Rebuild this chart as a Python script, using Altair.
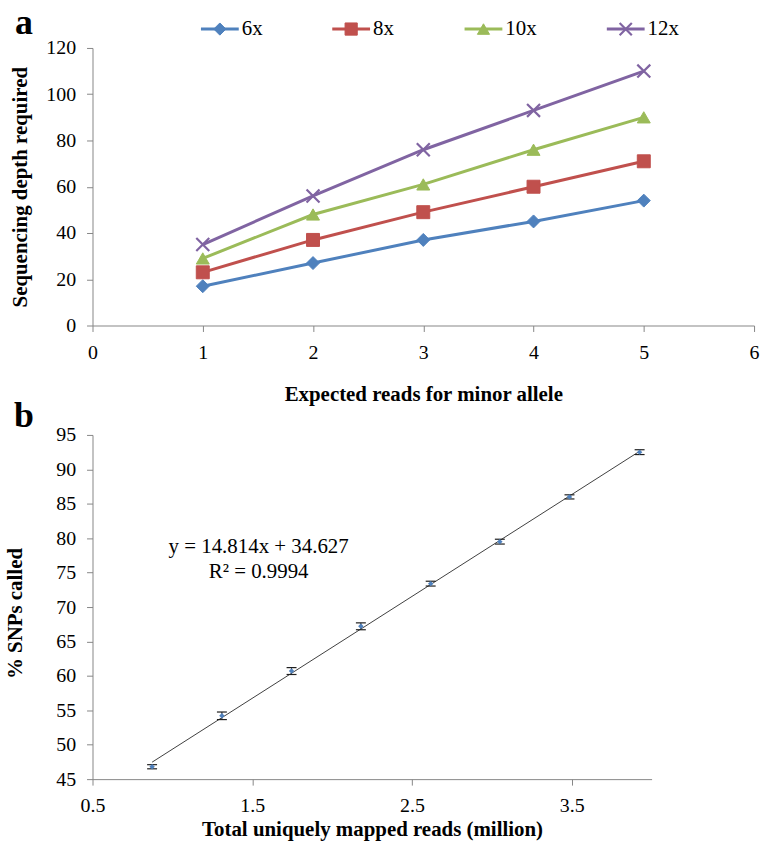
import altair as alt
import pandas as pd

# ---------------- data ----------------
# panel a
series = ["6x", "8x", "10x", "12x"]
expected_reads = [1, 2, 3, 4, 5]
depth_6x = [17, 27, 37, 45, 54]
depth_8x = [23, 37, 49, 60, 71]
depth_10x = [29, 48, 61, 76, 90]
depth_12x = [35, 56, 76, 93, 110]

# panel b
mapped_reads = [0.873, 1.31, 1.746, 2.18, 2.617, 3.05, 3.486, 3.925]
snps_called = [46.8, 54.2, 60.7, 67.2, 73.4, 79.5, 86.0, 92.5]
snps_err = [0.3, 0.55, 0.5, 0.5, 0.35, 0.35, 0.3, 0.35]
eq_text = "y = 14.814x + 34.627"
r2_text = "R\u00b2 = 0.9994"

# ---------------- styling ----------------
FONT = "Liberation Serif"
colors = ["#4F81BD", "#C0504D", "#9BBB59", "#8064A2"]
shapes = ["diamond", "square", "triangle-up", "M-1,-1L1,1M-1,1L1,-1"]
W_A, H_A = 665, 279
W_B, H_B = 562, 346

AXIS_STYLE = dict(
    labelFont=FONT, labelFontSize=20, labelColor="black", labelPadding=11,
    labelFlush=False, labelOverlap=False,
    titleFont=FONT, titleFontSize=21, titleFontWeight="bold", titleColor="black",
    domainColor="#868686", tickColor="#868686", tickSize=6, grid=False, domainWidth=1,
)

depths = [depth_6x, depth_8x, depth_10x, depth_12x]
df_a = pd.DataFrame(
    [{"series": s, "reads": x, "depth": d}
     for s, vals in zip(series, depths) for x, d in zip(expected_reads, vals)]
)
df_leg = pd.DataFrame({"series": series, "idx": list(range(len(series)))})

color_scale = alt.Scale(domain=series, range=colors)
shape_scale = alt.Scale(domain=series, range=shapes)

x_a = alt.X("reads:Q", scale=alt.Scale(domain=[0, 6], nice=False),
            axis=alt.Axis(values=[0, 1, 2, 3, 4, 5, 6], format="d",
                          title="Expected reads for minor allele",
                          titleBaseline="alphabetic", titleY=75, **AXIS_STYLE))
y_a = alt.Y("depth:Q", scale=alt.Scale(domain=[0, 120], nice=False),
            axis=alt.Axis(values=list(range(0, 121, 20)), format="d",
                          title="Sequencing depth required",
                          titleBaseline="alphabetic", titleX=-66, titleY=H_A / 2,
                          **AXIS_STYLE))

lines_a = alt.Chart(df_a).mark_line(strokeWidth=3).encode(
    x=x_a, y=y_a,
    color=alt.Color("series:N", scale=color_scale, legend=None),
)
marker_enc = dict(
    shape=alt.Shape("series:N", scale=shape_scale, legend=None),
    fill=alt.Fill("series:N", scale=color_scale, legend=None),
    stroke=alt.Stroke("series:N", scale=color_scale, legend=None),
    strokeWidth=alt.condition("datum.series === '12x'", alt.value(2.2), alt.value(1)),
)
pts_a = alt.Chart(df_a).mark_point(size=170, opacity=1).encode(x=x_a, y=y_a, **marker_enc)
main_a = alt.layer(lines_a, pts_a)

# hand-built legend above the plot
leg_x = alt.X("idx:Q", scale=alt.Scale(domain=[0, 1, 2, 3], range=[128, 260, 393, 536]), axis=None)
leg_rule = alt.Chart(df_leg).mark_rule(strokeWidth=3, xOffset=-19, x2Offset=19).encode(
    x=leg_x, x2="idx:Q", y=alt.value(-19),
    color=alt.Color("series:N", scale=color_scale, legend=None),
)
leg_pts = alt.Chart(df_leg).mark_point(size=150, opacity=1).encode(
    x=leg_x, y=alt.value(-19), **marker_enc)
leg_text = alt.Chart(df_leg).mark_text(align="left", baseline="alphabetic", dx=22,
                                       font=FONT, fontSize=21, color="black").encode(
    x=leg_x, y=alt.value(-13), text="series:N")
label_a = alt.Chart(pd.DataFrame({"label": ["a"]})).mark_text(
    align="center", baseline="alphabetic", font=FONT, fontSize=36, fontWeight="bold",
    color="black").encode(x=alt.value(-69), y=alt.value(-14), text="label:N")
legend_a = alt.layer(leg_rule, leg_pts, leg_text, label_a)

panel_a = alt.layer(main_a, legend_a).resolve_scale(x="independent").properties(
    width=W_A, height=H_A)

# ---------------- panel b ----------------
df_b = pd.DataFrame({"reads": mapped_reads, "snps": snps_called, "err": snps_err})

x_scale_b = alt.Scale(domain=[0.5, 4.0], nice=False, zero=False)
y_scale_b = alt.Scale(domain=[45, 95], nice=False, zero=False)
x_axis_b = alt.Axis(values=[0.5, 1.5, 2.5, 3.5], format=".1f",
                    title="Total uniquely mapped reads (million)",
                    titleBaseline="alphabetic", titleY=57, **AXIS_STYLE)
y_axis_b = alt.Axis(values=list(range(45, 96, 5)), format="d", title="% SNPs called",
                    titleBaseline="alphabetic", titleX=-71, titleY=179, **AXIS_STYLE)


def xb(field):
    return alt.X(field, type="quantitative", scale=x_scale_b, axis=x_axis_b)


def yb(field):
    return alt.Y(field, type="quantitative", scale=y_scale_b, axis=y_axis_b)


base_b = alt.Chart(df_b).transform_calculate(
    lo="datum.snps - datum.err", hi="datum.snps + datum.err")

trend = alt.Chart(df_b).transform_regression("reads", "snps").mark_line(
    color="#404040", strokeWidth=1).encode(x=xb("reads"), y=yb("snps"))
err_rule = base_b.mark_rule(color="#1f1f1f", strokeWidth=1).encode(
    x=xb("reads"), y=yb("lo"), y2="hi:Q")
cap_lo = base_b.mark_tick(orient="horizontal", size=10, thickness=1.2, color="#1f1f1f",
                          opacity=1).encode(x=xb("reads"), y=yb("lo"))
cap_hi = base_b.mark_tick(orient="horizontal", size=10, thickness=1.2, color="#1f1f1f",
                          opacity=1).encode(x=xb("reads"), y=yb("hi"))
pts_b = alt.Chart(df_b).mark_point(shape="diamond", filled=True, size=30,
                                   color="#4F81BD", opacity=1).encode(
    x=xb("reads"), y=yb("snps"))

one = pd.DataFrame({"k": [0]})
eq_x = alt.XDatum(1.54, type="quantitative", scale=x_scale_b, axis=x_axis_b)
eq1 = alt.Chart(one).mark_text(align="center", baseline="alphabetic", font=FONT,
                               fontSize=21, color="black").encode(
    x=eq_x, y=alt.YDatum(77.8, type="quantitative", scale=y_scale_b, axis=y_axis_b),
    text=alt.value(eq_text))
eq2 = alt.Chart(one).mark_text(align="center", baseline="alphabetic", font=FONT,
                               fontSize=21, color="black").encode(
    x=eq_x, y=alt.YDatum(74.2, type="quantitative", scale=y_scale_b, axis=y_axis_b),
    text=alt.value(r2_text))
label_b = alt.Chart(pd.DataFrame({"label": ["b"]})).mark_text(
    align="center", baseline="alphabetic", font=FONT, fontSize=36, fontWeight="bold",
    color="black").encode(x=alt.value(-69), y=alt.value(-8), text="label:N")

panel_b = alt.layer(trend, err_rule, cap_lo, cap_hi, pts_b, eq1, eq2, label_b).properties(
    width=W_B, height=H_B)

chart = alt.vconcat(panel_a, panel_b, spacing=110, bounds="flush").properties(
    padding={"left": 5, "top": 3, "right": 5, "bottom": 3}
).configure_view(stroke=None).configure_axis(**AXIS_STYLE)

chart.save("out.html", embed_options={"renderer": "svg", "actions": False})
